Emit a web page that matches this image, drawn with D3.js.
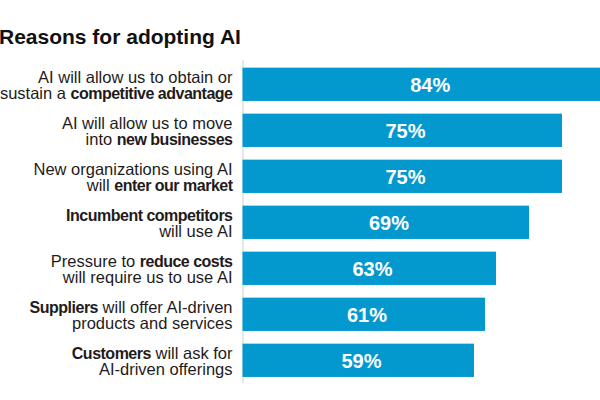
<!DOCTYPE html>
<html>
<head>
<meta charset="utf-8">
<script src="https://cdn.jsdelivr.net/npm/d3@7"></script>
<style>
  html, body { margin: 0; padding: 0; background: #fff; }
  svg { display: block; }
</style>
</head>
<body>
<svg id="chart" width="600" height="400"></svg>
<script>
// ---- data ----
const title = "Reasons for adopting AI";
// each category: two lines, **...** marks bold text
const categories = [
  ["AI will allow us to obtain or", "sustain a **competitive advantage**"],
  ["AI will allow us to move", "into **new businesses**"],
  ["New organizations using AI", "will **enter our market**"],
  ["**Incumbent competitors**", "will use AI"],
  ["Pressure to **reduce costs**", "will require us to use AI"],
  ["**Suppliers** will offer AI-driven", "products and services"],
  ["**Customers** will ask for", "AI-driven offerings"]
];
const values = [84, 75, 75, 69, 63, 61, 59];
const valueLabels = ["84%", "75%", "75%", "69%", "63%", "61%", "59%"];

// ---- layout ----
const W = 600, H = 400;
const plotLeft = 243, plotRight = 600;
const svg = d3.select("#chart");

const x = d3.scaleLinear().domain([0, 100]).range([149.5, 699.5]);
const y = d3.scaleBand()
  .domain(d3.range(categories.length))
  .range([61.3, 383.3])
  .paddingInner(0.276)
  .paddingOuter(0.138);

const barColor = "#0399cf";
const textColor = "#1f1b1c";
const fontFam = "'Liberation Sans', Arial, Helvetica, sans-serif";

// title
svg.append("text")
  .attr("x", -1)
  .attr("y", 43.5)
  .attr("font-family", fontFam)
  .attr("font-weight", "bold")
  .attr("font-size", 21)
  .attr("fill", "#111")
  .text(title);

// clip for plot area (bars start at the axis line)
svg.append("clipPath").attr("id", "plotClip")
  .append("rect")
  .attr("x", plotLeft - 0.5).attr("y", 0)
  .attr("width", plotRight - plotLeft + 0.5).attr("height", H);

// axis line
svg.append("line")
  .attr("x1", plotLeft).attr("x2", plotLeft)
  .attr("y1", 60).attr("y2", 383)
  .attr("stroke", "#d0d0d0")
  .attr("stroke-width", 1);

// bars
const bars = svg.append("g").attr("clip-path", "url(#plotClip)");
bars.selectAll("rect")
  .data(values)
  .join("rect")
  .attr("x", x(0))
  .attr("y", (d, i) => y(i))
  .attr("width", d => x(d) - x(0))
  .attr("height", y.bandwidth())
  .attr("fill", barColor);

// value labels
svg.append("g").selectAll("text")
  .data(values)
  .join("text")
  .attr("x", d => (plotLeft + x(d)) / 2 + 3)
  .attr("y", (d, i) => y(i) + y.bandwidth() / 2)
  .attr("dy", "0.36em")
  .attr("text-anchor", "middle")
  .attr("font-family", fontFam)
  .attr("font-weight", "bold")
  .attr("font-size", 20)
  .attr("fill", "#fff")
  .text((d, i) => valueLabels[i]);

// category labels
const labelX = 232.5;
const lineH = 16;
const lg = svg.append("g");
categories.forEach((lines, i) => {
  const cy = y(i) + y.bandwidth() / 2;
  lines.forEach((line, j) => {
    const t = lg.append("text")
      .attr("x", labelX)
      .attr("y", cy - 1 + j * lineH)
      .attr("text-anchor", "end")
      .attr("font-family", fontFam)
      .attr("font-size", 16.5)
      .attr("fill", textColor);
    const parts = line.split("**");
    parts.forEach((p, k) => {
      if (!p) return;
      const ts = t.append("tspan").text(p);
      if (k % 2 === 1) ts.attr("font-weight", "bold").attr("font-size", 16).attr("letter-spacing", -0.5);
    });
  });
});
</script>
</body>
</html>
